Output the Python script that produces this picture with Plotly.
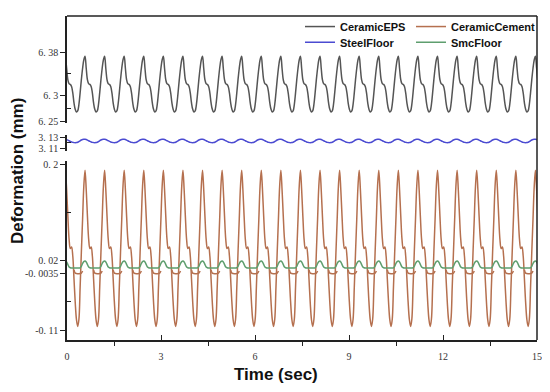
import numpy as np
import plotly.graph_objects as go

nan = float("nan")

# ---- data ----
time_start = -0.05          # s, first sampled peak (off-axis, clipped)
period = 0.625              # s
n_cycles = 25
# one cycle of each series, 16 samples, starting at the peak
eps_cycle = [6.373, 6.350, 6.3285, 6.321, 6.320, 6.316, 6.304, 6.285,
             6.273, 6.268, 6.270, 6.282, 6.304, 6.3285, 6.350, 6.366]
steel_cycle = [3.1266, 3.1262, 3.1252, 3.1240, 3.1228, 3.1218, 3.1210, 3.1206,
               3.1204, 3.1206, 3.1212, 3.1224, 3.1240, 3.1254, 3.1263, 3.1267]
cement_cycle = [0.190, 0.153, 0.103, 0.060, 0.043, 0.046, 0.029, -0.014,
                -0.058, -0.090, -0.103, -0.090, -0.030, 0.035, 0.097, 0.159]
cement_low_cycle = [nan, nan, nan, nan, nan, nan, nan, 0.003,
                    -0.003, -0.0038, -0.004, -0.004, -0.0038, -0.003, 0.001, nan]
smc_cycle = [0.0197, 0.0180, 0.0130, 0.0085, 0.0070, 0.0066, 0.0065, 0.0065,
             0.0065, 0.0065, 0.0065, 0.0066, 0.0070, 0.0095, 0.0150, 0.0185]

x_ticks = [0, 3, 6, 9, 12, 15]
x_minor = [1.5, 4.5, 7.5, 10.5, 13.5]
eps_ticks = [6.25, 6.3, 6.38]
eps_ticktext = ["6. 25", "6. 3", "6. 38"]
eps_minor = [6.275, 6.34]
steel_ticks = [3.11, 3.13]
steel_ticktext = ["3. 11", "3. 13"]
steel_minor = [3.12]
low_ticks = [-0.11, -0.0035, 0.02, 0.2]
low_ticktext = ["-0. 11", "-0. 0035", "0. 02", "0. 2"]
low_minor = [-0.05675, 0.11]

# ---- build series ----
spc = len(eps_cycle)
n_pts = n_cycles * spc + 1
t = time_start + np.arange(n_pts) * period / spc

def tile(cycle):
    arr = np.tile(np.array(cycle, dtype=float), n_cycles + 1)
    return arr[:n_pts]

eps = tile(eps_cycle)
steel = tile(steel_cycle)
cement = tile(cement_cycle)
cement_low = tile(cement_low_cycle)
smc = tile(smc_cycle)

C_EPS = "#555555"
C_CEM = "#b5704f"
C_STEEL = "#4b4bd1"
C_SMC = "#5e9e6e"
AX = "#222222"
LW = 1.5

fig = go.Figure()
fig.add_trace(go.Scatter(x=t, y=eps, name="CeramicEPS", mode="lines",
                         line=dict(color=C_EPS, width=LW, shape="spline"),
                         yaxis="y3", legend="legend", showlegend=True))
fig.add_trace(go.Scatter(x=t, y=steel, name="SteelFloor", mode="lines",
                         line=dict(color=C_STEEL, width=LW, shape="spline"),
                         yaxis="y2", legend="legend3", showlegend=True))
fig.add_trace(go.Scatter(x=t, y=cement, name="CeramicCement", mode="lines",
                         line=dict(color=C_CEM, width=LW, shape="spline"),
                         yaxis="y", legend="legend2", showlegend=True))
fig.add_trace(go.Scatter(x=t, y=cement_low, name="CeramicCement", mode="lines",
                         line=dict(color=C_CEM, width=LW, shape="spline"),
                         yaxis="y", showlegend=False, legend="legend2"))
fig.add_trace(go.Scatter(x=t, y=smc, name="SmcFloor", mode="lines",
                         line=dict(color=C_SMC, width=LW, shape="spline"),
                         yaxis="y", legend="legend4", showlegend=True))

tickfont = dict(family="Liberation Serif", size=10, color="#333333")

def yax(domain, rng, tv, tt, mv):
    return dict(domain=domain, range=rng, tickmode="array", tickvals=tv, ticktext=tt,
                ticks="outside", ticklen=5, tickwidth=1.3, tickcolor=AX,
                showline=True, linecolor=AX, linewidth=LW, showgrid=False,
                zeroline=False, tickfont=tickfont, anchor="x",
                minor=dict(tickmode="array", tickvals=mv, ticks="inside",
                           ticklen=4, tickwidth=1.3, tickcolor=AX))

H = 328.0
def dom(top_px, bot_px):
    return [(340 - bot_px) / H, (340 - top_px) / H]

legfont = dict(family="Liberation Sans", size=11, color="#111111", weight="bold")
def leg(xpx, ypx):
    return dict(x=(xpx - 67) / 470.0, y=(340 - ypx) / H, xanchor="left", yanchor="top",
                bgcolor="rgba(0,0,0,0)", borderwidth=0, font=legfont,
                itemwidth=30, tracegroupgap=0, visible=True)

fig.update_layout(
    width=542, height=384,
    margin=dict(l=59, r=13, t=4, b=52),
    showlegend=True,
    paper_bgcolor="white", plot_bgcolor="white",
    xaxis=dict(range=[0, 15], tickmode="array", tickvals=x_ticks,
               ticks="inside", ticklen=5, tickwidth=1.3, tickcolor=AX,
               showline=True, linecolor=AX, linewidth=LW, showgrid=False,
               zeroline=False, tickfont=tickfont, anchor="y", ticklabelstandoff=6,
               minor=dict(tickmode="array", tickvals=x_minor, ticks="outside",
                          ticklen=4, tickwidth=1.3, tickcolor=AX)),
    yaxis=yax(dom(159, 340), [-0.1285, 0.2069], low_ticks, low_ticktext, low_minor),
    yaxis2=yax(dom(132, 149), [3.1045, 3.1355], steel_ticks, steel_ticktext, steel_minor),
    yaxis3=yax(dom(12, 120), [6.2479, 6.4488], eps_ticks, eps_ticktext, eps_minor),
    legend=leg(300, 8),
    legend2=leg(411, 8),
    legend3=leg(300, 24),
    legend4=leg(411, 24),
    shapes=[
        dict(type="line", xref="paper", yref="paper", x0=0, x1=1, y0=1, y1=1,
             line=dict(color=AX, width=LW)),
        dict(type="line", xref="paper", yref="paper", x0=1, x1=1, y0=0, y1=1,
             line=dict(color=AX, width=LW)),
    ],
    annotations=[
        dict(text="<b>Time (sec)</b>", xref="paper", yref="paper",
             x=(276 - 67) / 470.0, y=(340 - 375) / H, xanchor="center", yanchor="middle",
             showarrow=False, font=dict(family="Liberation Sans", size=17, color="#111111")),
        dict(text="<b>Deformation (mm)</b>", xref="paper", yref="paper",
             x=(17 - 67) / 470.0, y=(340 - 169) / H, xanchor="center", yanchor="middle",
             textangle=-90, showarrow=False,
             font=dict(family="Liberation Sans", size=17, color="#111111")),
    ],
)

fig.write_html("out.html")
